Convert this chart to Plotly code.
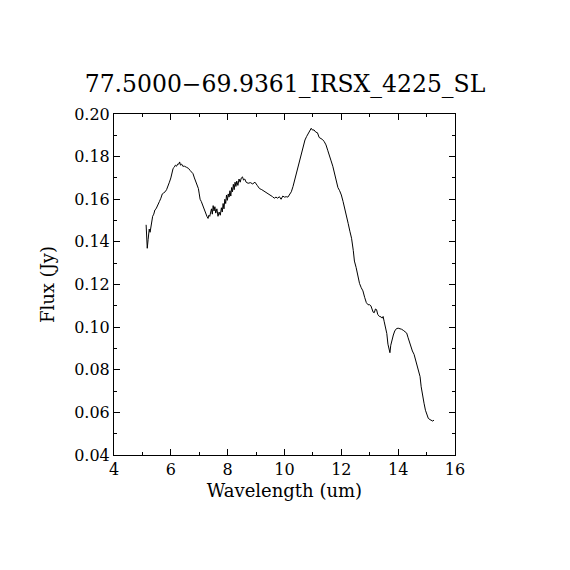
import plotly.graph_objects as go

wavelength = [5.13, 5.15, 5.17, 5.20, 5.24, 5.27, 5.30, 5.33, 5.36, 5.40, 5.44, 5.48, 5.52, 5.56, 5.60,
              5.65, 5.70, 5.75, 5.80, 5.85, 5.90, 5.95, 6.00, 6.04, 6.08, 6.12, 6.16, 6.20, 6.24, 6.28,
              6.31, 6.34, 6.38, 6.42, 6.48, 6.55, 6.62, 6.68, 6.73, 6.78, 6.83, 6.88, 6.93, 6.97, 7.00,
              7.03, 7.07, 7.12, 7.17, 7.22, 7.27, 7.31, 7.34, 7.37, 7.40, 7.43, 7.46, 7.49, 7.52, 7.55,
              7.58, 7.62, 7.66, 7.70, 7.74, 7.78, 7.81, 7.84, 7.87, 7.90, 7.93, 7.96, 7.99, 8.02, 8.05,
              8.08, 8.11, 8.14, 8.17, 8.20, 8.23, 8.26, 8.29, 8.32, 8.36, 8.40, 8.44, 8.48, 8.52, 8.56,
              8.60, 8.65, 8.72, 8.80, 8.88, 8.96, 9.04, 9.12, 9.20, 9.28, 9.36, 9.44, 9.52, 9.58, 9.64,
              9.70, 9.76, 9.82, 9.88, 9.94, 10.00, 10.06, 10.12, 10.18, 10.24, 10.30, 10.36, 10.42, 10.48, 10.54,
              10.60, 10.66, 10.72, 10.78, 10.84, 10.90, 10.94, 10.98, 11.04, 11.10, 11.16, 11.22, 11.28, 11.34, 11.40,
              11.46, 11.52, 11.58, 11.64, 11.70, 11.76, 11.82, 11.88, 11.94, 12.00, 12.06, 12.12, 12.18, 12.24, 12.30,
              12.36, 12.42, 12.46, 12.52, 12.58, 12.64, 12.70, 12.76, 12.82, 12.88, 12.94, 13.00, 13.04, 13.08, 13.12,
              13.16, 13.20, 13.24, 13.28, 13.34, 13.40, 13.44, 13.47, 13.51, 13.56, 13.60, 13.64, 13.68, 13.71, 13.74,
              13.78, 13.83, 13.88, 13.94, 14.00, 14.06, 14.12, 14.18, 14.24, 14.30, 14.35, 14.39, 14.44, 14.50, 14.56,
              14.62, 14.67, 14.72, 14.77, 14.81, 14.86, 14.91, 14.96, 15.01, 15.06, 15.12, 15.18, 15.22, 15.26]

flux = [0.148, 0.140, 0.137, 0.141, 0.146, 0.1445, 0.148, 0.149, 0.152, 0.153, 0.155, 0.1555, 0.157, 0.1575, 0.159,
        0.1605, 0.1625, 0.163, 0.1635, 0.1645, 0.166, 0.168, 0.170, 0.173, 0.1745, 0.175, 0.176, 0.1755, 0.1765, 0.1765,
        0.1775, 0.176, 0.1765, 0.1755, 0.1755, 0.175, 0.1745, 0.1735, 0.1725, 0.172, 0.170, 0.1685, 0.167, 0.165, 0.1625,
        0.160, 0.159, 0.157, 0.156, 0.154, 0.152, 0.151, 0.1525, 0.152, 0.154, 0.1555, 0.153, 0.157, 0.1545, 0.1565,
        0.1535, 0.1555, 0.152, 0.154, 0.1525, 0.156, 0.154, 0.158, 0.1555, 0.160, 0.158, 0.162, 0.1595, 0.1625, 0.161,
        0.164, 0.1615, 0.1655, 0.1635, 0.167, 0.1645, 0.168, 0.166, 0.1685, 0.1665, 0.1695, 0.168, 0.170, 0.1705, 0.169,
        0.1695, 0.168, 0.1675, 0.1678, 0.1672, 0.168, 0.1665, 0.165, 0.1645, 0.1638, 0.163, 0.1625, 0.162, 0.1612, 0.1605,
        0.161, 0.1605, 0.1612, 0.160, 0.1615, 0.161, 0.1612, 0.161, 0.162, 0.1635, 0.166, 0.169, 0.1725, 0.176, 0.179,
        0.1815, 0.185, 0.1878, 0.1895, 0.191, 0.1925, 0.1933, 0.1925, 0.1925, 0.1915, 0.1912, 0.189, 0.1885, 0.188, 0.187,
        0.1855, 0.183, 0.180, 0.178, 0.1755, 0.172, 0.169, 0.1655, 0.164, 0.162, 0.159, 0.156, 0.152, 0.1487, 0.145,
        0.1417, 0.136, 0.131, 0.128, 0.124, 0.1205, 0.1185, 0.117, 0.114, 0.1115, 0.1105, 0.1105, 0.110, 0.108, 0.107,
        0.1068, 0.1085, 0.1082, 0.106, 0.105, 0.1048, 0.1042, 0.105, 0.1025, 0.100, 0.097, 0.092, 0.0895, 0.088, 0.0915,
        0.094, 0.0963, 0.0982, 0.0993, 0.0995, 0.0993, 0.099, 0.0985, 0.098, 0.0972, 0.095, 0.0932, 0.0905, 0.0888, 0.0872,
        0.0845, 0.0815, 0.079, 0.0768, 0.072, 0.0675, 0.0643, 0.061, 0.0585, 0.0572, 0.0566, 0.0561, 0.0559, 0.0564]

x_ticks = [4, 6, 8, 10, 12, 14, 16]
y_ticks = [0.04, 0.06, 0.08, 0.10, 0.12, 0.14, 0.16, 0.18, 0.20]

FONT = "DejaVu Serif"

fig = go.Figure()
fig.add_trace(go.Scatter(x=wavelength, y=flux, mode="lines",
                         line=dict(color="black", width=1), showlegend=False))

axis_common = dict(
    showgrid=False, zeroline=False, showline=True, linecolor="black", linewidth=1,
    mirror="allticks", ticks="inside", ticklen=6, tickcolor="black", tickwidth=1,
    tickfont=dict(family=FONT, size=16, color="black"),
)

fig.update_xaxes(range=[4, 16], tickvals=x_ticks, ticktext=[str(v) for v in x_ticks],
                 minor=dict(dtick=1, ticks="inside", ticklen=3, tickcolor="black", showgrid=False),
                 title=dict(text="Wavelength (um)", font=dict(family=FONT, size=18, color="black"), standoff=6),
                 **axis_common)
fig.update_yaxes(range=[0.04, 0.20], tickvals=y_ticks, ticktext=[f"{v:.2f}" for v in y_ticks],
                 minor=dict(dtick=0.01, ticks="inside", ticklen=3, tickcolor="black", showgrid=False),
                 title=dict(text="Flux (Jy)", font=dict(family=FONT, size=18, color="black"), standoff=14),
                 **axis_common)

fig.update_layout(
    width=570, height=570,
    margin=dict(l=106, r=123, t=106, b=123),
    paper_bgcolor="white", plot_bgcolor="white",
    title=dict(text="77.5000\u221269.9361_IRSX_4225_SL", x=(285 - 8) / 570, xanchor="center",
               y=1 - (84 - 8) / 570, yanchor="middle",
               font=dict(family=FONT, size=23.5, color="black")),
)

fig.write_html("out.html")
